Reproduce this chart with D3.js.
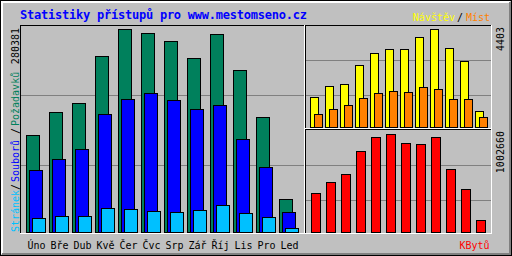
<!DOCTYPE html>
<html>
<head>
<meta charset="utf-8">
<script src="https://cdn.jsdelivr.net/npm/d3@7"></script>
<style>
  body { margin: 0; background: #fff; }
  svg text { font-family: "DejaVu Sans Mono", monospace; }
</style>
</head>
<body>
<div id="chart"></div>
<script>
// monthly values
const months = ["Úno", "Bře", "Dub", "Kvě", "Čer", "Čvc", "Srp", "Zář", "Říj", "Lis", "Pro", "Led"];
const hits = [134000, 165700, 178200, 243100, 280381, 274900, 263800, 240300, 273500, 223800, 158800, 45600];
const files = [85600, 100800, 114600, 163000, 183700, 192000, 182300, 169900, 175400, 128500, 89800, 27600];
const pages = [19300, 22100, 22100, 33100, 31800, 29000, 27600, 30400, 37300, 26200, 20700, 5500];
const visits = [1348, 1842, 1932, 2786, 3325, 3504, 3504, 4044, 4403, 3549, 2965, 719];
const sites = [584, 809, 988, 1303, 1528, 1617, 1573, 1797, 1707, 1258, 1258, 449];
const kbytes = [401000, 513000, 595000, 829000, 972000, 1002660, 911000, 901000, 972000, 646000, 442000, 125000];

const grey = "#c0c0c0", dkgrey = "#808080";

const svg = d3.select("#chart").append("svg")
  .attr("width", 512)
  .attr("height", 256);

// background + bevel
svg.append("rect").attr("width", 512).attr("height", 256).attr("fill", grey);
const line = (x1, y1, x2, y2, c) => svg.append("line")
  .attr("x1", x1).attr("y1", y1).attr("x2", x2).attr("y2", y2)
  .attr("stroke", c).attr("stroke-width", 1);
line(0, 0.5, 512, 0.5, "#000");
line(0.5, 0, 0.5, 256, "#000");
line(0, 255.5, 512, 255.5, "#000");
line(511.5, 0, 511.5, 256, "#000");
[1.5, 2.5].forEach(p => { line(1, p, 510, p, "#fff"); line(p, 1, p, 254, "#fff"); });
[253.5, 254.5].forEach(p => line(2, p, 511, p, dkgrey));
[509.5, 510.5].forEach(p => line(p, 2, p, 255, dkgrey));

// gridlines
[95, 165].forEach(y => line(21, y + 0.5, 304, y + 0.5, dkgrey));
[60, 95].forEach(y => line(306, y + 0.5, 491, y + 0.5, dkgrey));
[165, 200].forEach(y => line(306, y + 0.5, 491, y + 0.5, dkgrey));

// panel frames
line(20, 25.5, 305, 25.5, "#000");
line(20.5, 25, 20.5, 234, "#000");
line(20, 233.5, 305, 233.5, "#fff");
line(304.5, 25, 304.5, 234, "#fff");
line(305, 25.5, 492, 25.5, "#000");
line(305.5, 25, 305.5, 234, "#000");
line(305, 128.5, 492, 128.5, "#fff");
line(305, 129.5, 492, 129.5, "#000");
line(491.5, 25, 491.5, 234, "#fff");
line(305, 233.5, 492, 233.5, "#fff");

// scales
const xMain = d3.scaleBand().domain(months).range([26, 26 + 23 * 12]);
const xRight = d3.scaleBand().domain(months).range([310, 310 + 15 * 12]);
const yMain = d3.scaleLinear().domain([0, 280381]).range([232, 29]);
const yVis = d3.scaleLinear().domain([0, 4403]).range([127, 29]);
const yKb = d3.scaleLinear().domain([0, 1002660]).range([232, 134]);

const drawBars = function(vals, x, off, w, y, fill) {
  svg.append("g").selectAll("rect")
    .data(vals)
    .enter()
    .append("rect")
    .attr("x", (d, i) => x(months[i]) + off + 0.5)
    .attr("y", (d) => Math.round(y(d)) + 0.5)
    .attr("width", w)
    .attr("height", (d) => y.range()[0] - Math.round(y(d)))
    .attr("fill", fill)
    .attr("stroke", "#000")
    .attr("stroke-width", 1);
};

drawBars(hits, xMain, 0, 13, yMain, "#00805c");
drawBars(files, xMain, 3, 13, yMain, "#0000ff");
drawBars(pages, xMain, 6, 13, yMain, "#00c0ff");
drawBars(visits, xRight, 0, 8, yVis, "#ffff00");
drawBars(sites, xRight, 4, 8, yVis, "#ff8000");
drawBars(kbytes, xRight, 1, 9, yKb, "#ff0000");

// texts
const txt = (x, y, s, c, size) => svg.append("text")
  .attr("x", x).attr("y", y).attr("fill", c)
  .attr("font-size", size || 10).text(s);

txt(20, 19, "Statistiky přístupů pro www.mestomseno.cz", "#0000ff", 12)
  .attr("font-weight", "bold")
  .attr("textLength", 287);

txt(455, 21, "Návštěv", "#ffff00").attr("text-anchor", "end");
txt(460, 21, "/", "#000").attr("text-anchor", "middle");
txt(466, 21, "Míst", "#ff8000");
txt(489.5, 249, "KBytů", "#ff0000").attr("text-anchor", "end");

svg.append("g").selectAll("text")
  .data(months)
  .enter()
  .append("text")
  .attr("x", (d) => xMain(d) + 1.5)
  .attr("y", 249)
  .attr("font-size", 10)
  .attr("fill", "#000")
  .text((d) => d);

// rotated labels
const up = (x, y, s, c, anchor) => svg.append("text")
  .attr("transform", "translate(" + x + "," + y + ") rotate(-90)")
  .attr("font-size", 10)
  .attr("fill", c)
  .attr("text-anchor", anchor || "start")
  .text(s);

up(18.5, 232, "Stránek", "#00c0ff");
up(18.5, 187, "/", "#000", "middle");
up(18.5, 182, "Souborů", "#0000ff");
up(18.5, 131, "/", "#000", "middle");
up(18.5, 126, "Požadavků", "#00805c");
up(18.5, 28, d3.max(hits), "#000", "end");
up(504, 27, d3.max(visits), "#000", "end");
up(504, 131, d3.max(kbytes), "#000", "end");
</script>
</body>
</html>
